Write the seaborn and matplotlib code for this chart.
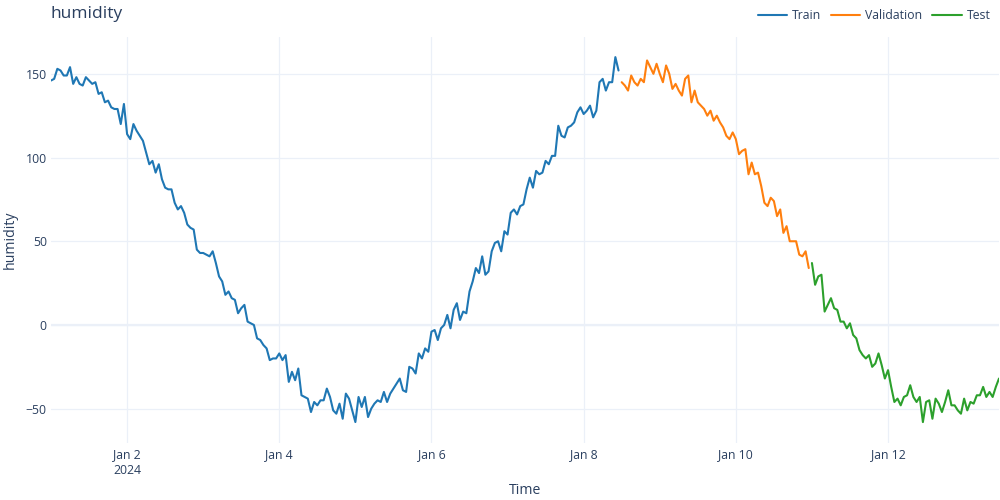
import pandas as pd
import numpy as np
import matplotlib
matplotlib.use('Agg')
import matplotlib.pyplot as plt
import seaborn as sns

# hourly readings
train_vals = [
    146, 147, 153, 152, 149, 149, 154, 144, 148, 144, 143, 148, 146, 144, 145, 138,
    139, 133, 134, 130, 129, 129, 120, 132, 114, 111, 120, 116, 113, 110, 103, 96,
    98, 91, 96, 87, 82, 81,
    81, 73, 69, 71, 67, 60, 58, 57, 45, 43, 43, 42, 41, 44, 37, 29, 26, 18, 20, 16,
    15, 7, 10, 12, 2, 1, 0, -8, -9, -12, -14, -21, -20, -20, -17, -21, -18, -34,
    -28, -33, -26, -42, -43, -44, -52, -46, -48,
    -45, -45, -38, -43, -51, -53, -47, -56, -41, -44, -51, -58, -43, -49, -43, -55,
    -50, -47, -45, -46, -40, -46, -41, -38, -35, -32, -39, -40, -25, -26, -29, -17,
    -20, -14, -16, -4, -3, -9, -2, 0, 6, -2, 9, 13, 3, 8, 7, 20, 26, 34, 31, 41,
    30, 32, 44, 49, 50, 44, 56, 54, 67, 69, 66, 71, 72, 81, 88, 82, 92, 90, 91, 98,
    96, 101, 101, 119, 113, 112, 118, 119, 121, 127, 130, 126, 128, 131, 124, 128,
    145, 147, 140, 145, 145, 160, 152,
]
val_vals = [
    145, 143, 140, 149, 145, 143, 147, 145, 158, 154, 150, 156, 150, 145, 155, 150,
    141, 144, 140, 137, 147, 149, 133, 140, 133, 131, 129, 125, 128, 122, 125, 121,
    118, 113, 111, 115, 111, 102, 104, 105, 90, 97, 90, 91, 83, 73, 71, 76, 74, 65,
    69, 55, 59, 50, 50, 50, 42, 41, 44, 34,
]
test_vals = [
    37, 24, 29, 30, 8, 12, 16, 10, 9, 2, 2, -2, 1, -6, -8, -15, -18, -20, -18, -25,
    -23, -17, -24, -32, -27, -37, -46, -44, -48, -43, -42, -36, -43, -46, -43, -58,
    -46, -45, -56, -44, -47, -52, -46, -39, -48, -48, -51, -53, -44, -51, -46, -47,
    -42, -42, -37, -43, -40, -43, -37, -32,
]
split_names = ['Train', 'Validation', 'Test']
split_colors = ['#1f77b4', '#ff7f0e', '#2ca02c']
y_ticks = [-50, 0, 50, 100, 150]
x_tick_days = ['2024-01-02', '2024-01-04', '2024-01-06', '2024-01-08', '2024-01-10', '2024-01-12']
x_tick_labels = ['Jan 2\n2024', 'Jan 4', 'Jan 6', 'Jan 8', 'Jan 10', 'Jan 12']

values = train_vals + val_vals + test_vals
splits = (['Train'] * len(train_vals) + ['Validation'] * len(val_vals)
          + ['Test'] * len(test_vals))
df = pd.DataFrame({
    'Time': pd.date_range('2024-01-01', periods=len(values), freq='h'),
    'humidity': values,
    'split': splits,
})

TXT = '#2a3f5f'
GRID = '#EBF0F8'

sns.set_style('white')
plt.rcParams['font.family'] = ['Open Sans', 'DejaVu Sans']

fig = plt.figure(figsize=(10, 5), dpi=100)
ax = fig.add_axes([0.051, 1 - 443 / 500, 0.948, 406 / 500])

ax.axhline(0, color=GRID, lw=1.6, zorder=0.5)
sns.lineplot(data=df, x='Time', y='humidity', hue='split', hue_order=split_names,
             palette=dict(zip(split_names, split_colors)), estimator=None,
             linewidth=1.5, ax=ax)

ax.set_xlim(df['Time'].iloc[0], df['Time'].iloc[-1])
ax.set_ylim(-70.5, 172)
ax.set_yticks(y_ticks)
ax.set_xticks(pd.to_datetime(x_tick_days))
ax.set_xticklabels(x_tick_labels)
ax.grid(True, color=GRID, lw=0.9)
ax.set_axisbelow(True)
for s in ax.spines.values():
    s.set_visible(False)
ax.tick_params(axis='both', length=0, labelsize=8.8, labelcolor=TXT)
ax.tick_params(axis='y', pad=3)
ax.tick_params(axis='x', pad=4)

ax.set_xlabel('Time', fontsize=10.2, color=TXT)
ax.set_ylabel('humidity', fontsize=10.2, color=TXT)
ax.xaxis.set_label_coords(0.5, -0.098)
ax.yaxis.set_label_coords(-0.035, 0.5)

ax.legend(title=None, loc='center right', bbox_to_anchor=(0.996, 1.052), ncol=3,
          frameon=False, fontsize=8.8, labelcolor=TXT, handlelength=2.4,
          columnspacing=0.8, handletextpad=0.4, borderaxespad=0)

fig.text(0.05, 1 - 14 / 500, 'humidity', fontsize=12.5, color=TXT, va='center', ha='left')

fig.savefig('out.png', dpi=100)
